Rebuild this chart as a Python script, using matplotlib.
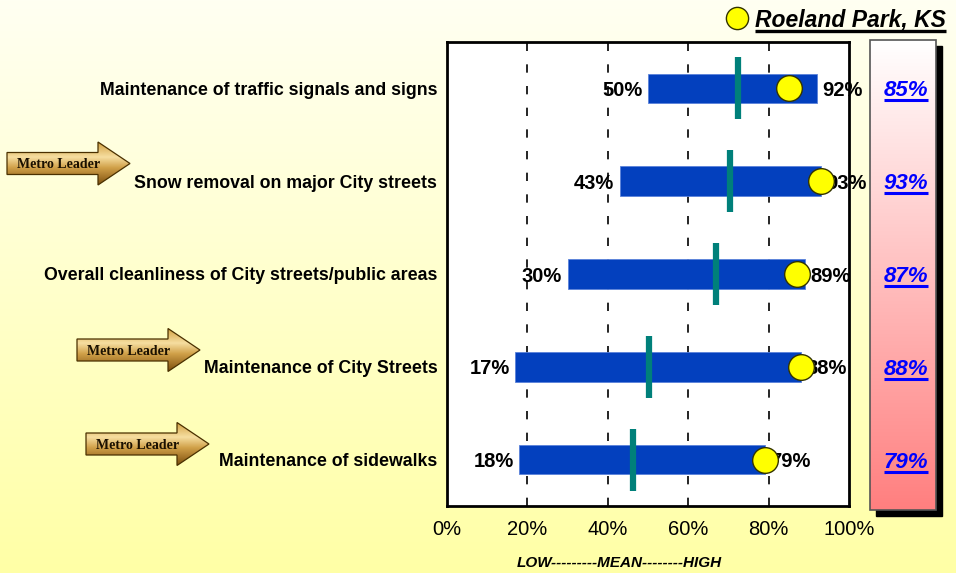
import numpy as np
import matplotlib
matplotlib.use("Agg")
import matplotlib.pyplot as plt
from matplotlib.patches import Polygon, Rectangle
from matplotlib.colors import LinearSegmentedColormap
import matplotlib.transforms as mtransforms

# ---------------- data ----------------
categories = [
    "Maintenance of traffic signals and signs",
    "Snow removal on major City streets",
    "Overall cleanliness of City streets/public areas",
    "Maintenance of City Streets",
    "Maintenance of sidewalks",
]
low_values = [50, 43, 30, 17, 18]
high_values = [92, 93, 89, 88, 79]
mean_values = [72.3, 70.4, 66.9, 50.2, 46.2]
city_values = [85, 93, 87, 88, 79]
metro_leader = [False, True, False, True, True]
city_name = "Roeland Park, KS"
x_ticks = [0, 20, 40, 60, 80, 100]
x_tick_labels = ["0%", "20%", "40%", "60%", "80%", "100%"]
axis_note = "LOW---------MEAN--------HIGH"

W, H = 956, 573
fig = plt.figure(figsize=(W / 100, H / 100), dpi=100)

# background gradient
bg = fig.add_axes([0, 0, 1, 1], zorder=-10)
bg.set_axis_off()
bg_cmap = LinearSegmentedColormap.from_list("bg", ["#FFFFF2", "#FFFFA6"])
bg.imshow(np.linspace(0, 1, 256).reshape(-1, 1), aspect="auto", cmap=bg_cmap,
          extent=[0, 1, 0, 1], origin="upper")
bg.set_xlim(0, 1)
bg.set_ylim(0, 1)

# main axes
ax_l, ax_r, ax_t, ax_b = 447, 849, 42, 506
ax = fig.add_axes([ax_l / W, 1 - ax_b / H, (ax_r - ax_l) / W, (ax_b - ax_t) / H])
ax.set_facecolor("white")
for s in ax.spines.values():
    s.set_linewidth(2)
    s.set_color("black")

n = len(categories)
ypos = np.arange(n)
ax.set_xlim(0, 100)
ax.set_ylim(n - 0.5, -0.5)

for gx in [20, 40, 60, 80]:
    ax.axvline(gx, color="black", lw=1.2, dashes=(5, 8), zorder=1)

ax.barh(ypos, np.array(high_values) - np.array(low_values), left=low_values,
        height=0.32, color="#0340BE", edgecolor="#5A82DA", linewidth=0.6, zorder=2)
ax.vlines(mean_values, ypos - 0.335, ypos + 0.335, color="#00807A", lw=4.5, zorder=3)

for i in range(n):
    ax.annotate(f"{low_values[i]}%", (low_values[i], ypos[i]), xytext=(-4, 0),
                textcoords="offset points", ha="right", va="center_baseline",
                fontsize=14.5, fontweight="bold", family="Liberation Sans", zorder=4)
    ax.annotate(f"{high_values[i]}%", (high_values[i], ypos[i]), xytext=(4, 0),
                textcoords="offset points", ha="left", va="center_baseline",
                fontsize=14.5, fontweight="bold", family="Liberation Sans", zorder=4)

ax.plot(city_values, ypos, "o", ms=18.5, mfc="#FFFF00", mec="#333300", mew=1.0,
        zorder=6, clip_on=False)

ax.set_xticks(x_ticks)
ax.set_xticklabels(x_tick_labels, fontsize=14.5, family="Liberation Sans")
ax.tick_params(axis="x", length=0, pad=10)
ax.set_yticks(ypos)
ax.set_yticklabels(categories, fontsize=12.8, fontweight="bold", family="Liberation Sans",
                   va="center_baseline")
ax.tick_params(axis="y", length=0, pad=7)

fig.text(619 / W, 1 - 563 / H, axis_note, ha="center", va="center", fontsize=11,
         fontweight="bold", style="italic", family="Liberation Sans")

# overlay in pixel coordinates for decorations
ov = fig.add_axes([0, 0, 1, 1], zorder=5)
ov.set_axis_off()
ov.set_xlim(0, W)
ov.set_ylim(H, 0)
ov.patch.set_alpha(0)

# right panel with shadow
px0, px1, py0, py1 = 870, 936, 40, 510
ov.add_patch(Rectangle((px0 + 6, py0 + 6), px1 - px0, py1 - py0, color="black", zorder=1))
panel_cmap = LinearSegmentedColormap.from_list("panel", ["#FFFFFF", "#FF7F7F"])
ov.imshow(np.linspace(0, 1, 256).reshape(-1, 1), aspect="auto", cmap=panel_cmap,
          extent=[px0, px1, py1, py0], origin="upper", zorder=2)
ov.add_patch(Rectangle((px0, py0), px1 - px0, py1 - py0, fill=False,
                       edgecolor="#555555", lw=1.2, zorder=3))
ov.set_xlim(0, W)
ov.set_ylim(H, 0)

blend = mtransforms.blended_transform_factory(ov.transData, ax.transData)
underline_texts = []
for i in range(n):
    t = fig.text(906, ypos[i], f"{city_values[i]}%", fontsize=16, fontweight="bold",
                 style="italic", color="#0000FF", family="Liberation Sans", ha="center",
                 va="center_baseline", transform=blend, zorder=10)
    underline_texts.append((t, "#0000FF", 2.2))

# legend
ov.plot([737], [18], "o", ms=16, mfc="#FFFF00", mec="#333300", mew=1.0, zorder=5)
lt = ov.text(755, 18, city_name, fontsize=16.5, fontweight="bold", style="italic",
             family="Liberation Sans", ha="left", va="center_baseline", zorder=5)
underline_texts.append((lt, "black", 2.4))

# metro leader arrows
arrow_cmap = LinearSegmentedColormap.from_list(
    "gold", [(0, "#D2A040"), (0.35, "#F6DEA0"), (0.6, "#D0A048"), (1, "#7E500E")])
arrow_geom = {1: (7, 163.5), 3: (77, 350), 4: (86, 444)}
arrow_specs = [arrow_geom[i] for i in range(n) if metro_leader[i]]
for (x0, cy) in arrow_specs:
    bw, tipw = 91, 123
    bh, hh = 11, 21.5
    pts = [(x0, cy - bh), (x0 + bw, cy - bh), (x0 + bw, cy - hh), (x0 + tipw, cy),
           (x0 + bw, cy + hh), (x0 + bw, cy + bh), (x0, cy + bh)]
    poly = Polygon(pts, closed=True, facecolor="none", edgecolor="#4A3000", lw=0.9, zorder=4)
    ov.add_patch(poly)
    gi = ov.imshow(np.linspace(0, 1, 256).reshape(-1, 1), aspect="auto", cmap=arrow_cmap,
                   extent=[x0, x0 + tipw, cy + hh, cy - hh], origin="upper", zorder=3)
    gi.set_clip_path(poly)
    ov.text(x0 + 52, cy, "Metro Leader", fontsize=10, fontweight="bold",
            family="Liberation Serif", ha="center", va="center_baseline", color="#1A1000",
            zorder=5)
ov.set_xlim(0, W)
ov.set_ylim(H, 0)

# underlines
fig.canvas.draw()
r = fig.canvas.get_renderer()
inv = ov.transData.inverted()
for t, col, lw in underline_texts:
    bb = t.get_window_extent(renderer=r)
    (xa, ya), (xb, yb) = inv.transform([(bb.x0, bb.y0), (bb.x1, bb.y1)])
    ybot = max(ya, yb)
    ov.plot([xa, xb], [ybot - 1, ybot - 1], color=col, lw=lw, zorder=10,
            solid_capstyle="butt")

fig.savefig("out.png", dpi=100)
